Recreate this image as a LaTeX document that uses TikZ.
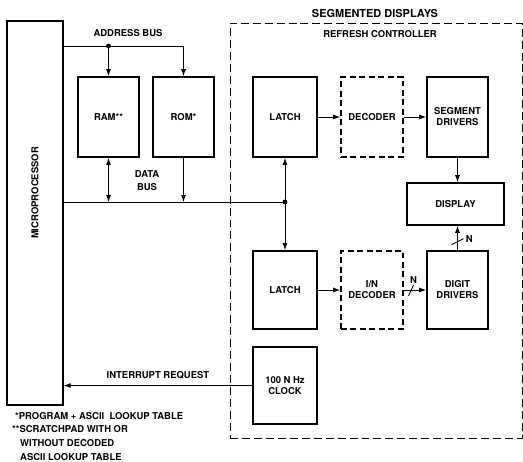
\documentclass[tikz,border=0pt]{standalone}
\usepackage{fontspec}
\setmainfont{TeX Gyre Heros}
\usetikzlibrary{arrows.meta,positioning,calc}

\begin{document}
\begin{tikzpicture}[
  x=1bp, y=-1bp,
  font=\fontsize{9.5}{11}\selectfont\bfseries,
  box/.style={draw,line width=1.6pt,align=center,inner sep=0pt,minimum width=64bp,minimum height=80bp},
  dbox/.style={box,dash pattern=on 6pt off 3.5pt},
  arr/.style={-{Latex[length=7pt,width=5pt]},line width=0.9pt},
  darr/.style={{Latex[length=7pt,width=5pt]}-{Latex[length=7pt,width=5pt]},line width=0.9pt},
  bus/.style={line width=0.9pt},
  dot/.style={circle,fill,inner sep=0pt,minimum size=5pt}
]
\useasboundingbox (0,0) rectangle (523,462);
% refresh controller frame
\node[draw,dash pattern=on 8pt off 4pt,line width=0.9pt,minimum width=292bp,minimum height=415bp] (seg) at (376,230.5) {};
\node[font=\fontsize{11}{13}\selectfont\bfseries] at (375,14) {SEGMENTED DISPLAYS};
\node at (380,34) {REFRESH CONTROLLER};
% processor and memories
\node[box,line width=1.3pt,minimum width=56bp,minimum height=384bp] (mp) at (35,213) {};
\node[rotate=90] at (35,193) {MICROPROCESSOR};
\node[box,minimum width=61bp] (ram) at (108.5,117) {RAM**};
\node[box,minimum width=61bp] (rom) at (183.5,117) {ROM*};
% display chain
\node[box] (latcha) at (285,117) {LATCH};
\node[dbox,minimum width=62bp] (dec) at (372,117) {DECODER};
\node[box,minimum width=61bp] (segdrv) at (457.5,117) {SEGMENT\\DRIVERS};
\node[box,minimum width=97bp,minimum height=42bp] (disp) at (455.5,204) {DISPLAY};
\node[box,minimum height=78bp] (latchb) at (285,290) {LATCH};
\node[dbox,minimum width=62bp,minimum height=78bp] (indec) at (372,290) {I/N\\DECODER};
\node[box,minimum width=61bp,minimum height=78bp] (digdrv) at (457.5,290) {DIGIT\\DRIVERS};
\node[box,minimum height=77bp] (clk) at (285,385.5) {100 N Hz\\CLOCK};
% address bus
\coordinate (abram) at (ram.north |- 0,46);
\draw[arr] (mp.east |- abram) -| (rom.north);
\draw[arr] (abram) -- (ram.north);
\node[dot] at (abram) {};
\node at (128,33) {ADDRESS BUS};
% data bus
\coordinate (dbl) at (latcha.south |- 0,202);
\draw[bus] (mp.east |- dbl) -- (dbl);
\draw[darr] (ram.south) -- (ram.south |- dbl);
\draw[arr] (rom.south) -- (rom.south |- dbl);
\draw[darr] (latcha.south) -- (latchb.north);
\node[dot] at (dbl) {};
\node[align=center,font=\fontsize{9.5}{13}\selectfont\bfseries] at (147,181) {DATA\\BUS};
% data paths
\draw[arr] (latcha) -- (dec);
\draw[arr] (dec) -- (segdrv);
\draw[arr] (segdrv.south) -- (segdrv.south |- disp.north);
\draw[arr] (latchb) -- (indec);
\draw[arr] (indec) -- coordinate[pos=0.3] (ni) (digdrv);
\draw[bus] ($(ni)+(-2,6)$) -- ($(ni)+(3,-5)$) node[above,inner sep=1.5pt] {N};
\draw[arr] (digdrv.north) -- coordinate[pos=0.35] (nd) (digdrv.north |- disp.south);
\draw[bus] ($(nd)+(-6,3)$) -- ($(nd)+(6,-3)$) node[right,inner sep=2pt] {N};
% interrupt
\draw[arr] (clk.west) -- (clk.west -| mp.east) node[midway,above=3pt] {INTERRUPT REQUEST};
% notes
\node[anchor=north west,align=left,inner sep=0pt,font=\fontsize{9.5}{13.7}\selectfont\bfseries] (notes) at (12,412)
  {\hspace*{3bp}*PROGRAM + ASCII\ \ LOOKUP TABLE\\
   **SCRATCHPAD WITH OR\\
   \hspace*{8bp}WITHOUT DECODED\\
   \hspace*{8bp}ASCII LOOKUP TABLE};
\end{tikzpicture}
\end{document}
